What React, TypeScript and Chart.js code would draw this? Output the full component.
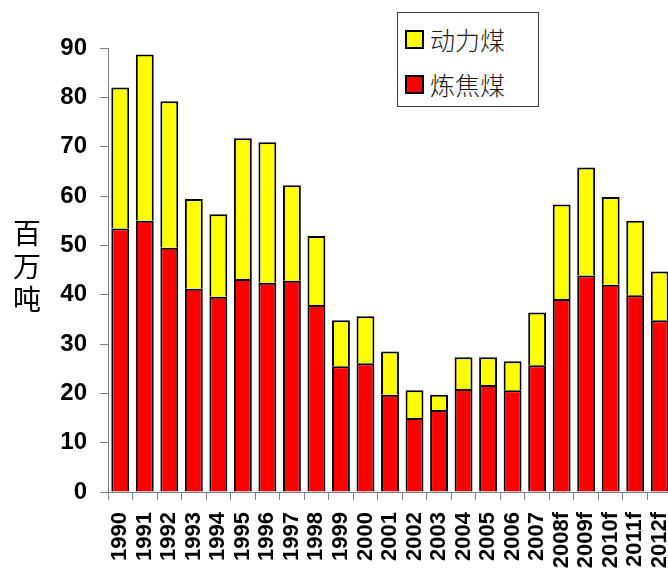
import React, { useEffect, useRef } from 'react';
import { Chart, registerables } from 'chart.js';

Chart.register(...registerables);

// ---- data ----
const years = [
  '1990', '1991', '1992', '1993', '1994', '1995', '1996', '1997', '1998', '1999',
  '2000', '2001', '2002', '2003', '2004', '2005', '2006', '2007',
  '2008f', '2009f', '2010f', '2011f', '2012f',
];
// 炼焦煤 (coking coal), million tonnes
const cokingCoal = [
  53.4, 55.0, 49.5, 41.2, 39.6, 43.2, 42.4, 42.8, 37.9, 25.5,
  26.1, 19.7, 15.0, 16.6, 20.9, 21.7, 20.6, 25.7,
  39.1, 43.9, 42.0, 39.9, 34.8,
];
// 动力煤 (thermal coal), million tonnes (stacked on top)
const thermalCoal = [
  28.6, 33.7, 29.7, 18.2, 16.7, 28.5, 28.5, 19.4, 14.0, 9.3,
  9.5, 8.8, 5.6, 3.1, 6.4, 5.6, 5.9, 10.7,
  19.2, 21.9, 17.8, 15.1, 9.9,
];
const seriesNames = ['炼焦煤', '动力煤'];
const seriesColors = ['#ff0000', '#ffff00'];
const yMin = 0;
const yMax = 90;
const yStep = 10;
const yTitleChars = ['百', '万', '吨'];

const CANVAS_W = 672;
const CANVAS_H = 590;
const AXIS_LEFT = 108;
const AXIS_BOTTOM = 492;
const PLOT_TOP = 48;

const latin = "'Liberation Sans', Arial, sans-serif";
const cjk = "'Noto Sans CJK SC', 'Noto Sans', sans-serif";

export default function App() {
  const ref = useRef<HTMLCanvasElement>(null);

  useEffect(() => {
    const canvas = ref.current;
    if (!canvas) return;
    const chart = new Chart(canvas, {
      type: 'bar',
      data: {
        labels: years,
        datasets: [
          {
            label: seriesNames[0],
            data: cokingCoal,
            backgroundColor: seriesColors[0],
            borderColor: '#000000',
            borderWidth: 2,
          },
          {
            label: seriesNames[1],
            data: thermalCoal,
            backgroundColor: seriesColors[1],
            borderColor: '#000000',
            borderWidth: 2,
          },
        ],
      },
      options: {
        responsive: false,
        animation: false,
        layout: { padding: { top: PLOT_TOP, left: 0, right: 0, bottom: 0 } },
        datasets: { bar: { categoryPercentage: 1, barPercentage: 0.73 } },
        plugins: {
          legend: { display: false },
          tooltip: { enabled: false },
          title: { display: false },
        },
        scales: {
          x: {
            stacked: true,
            grid: {
              offset: true,
              drawOnChartArea: false,
              drawTicks: true,
              tickLength: 8,
              color: '#808080',
            },
            border: { color: '#808080', width: 1 },
            ticks: {
              autoSkip: false,
              minRotation: 90,
              maxRotation: 90,
              padding: 12,
              color: '#000000',
              font: { family: latin, weight: 'bold', size: 22 },
            },
            afterFit: (s: any) => {
              s.height = CANVAS_H - AXIS_BOTTOM;
              s.paddingLeft = 0;
              s.paddingRight = 0;
            },
          },
          y: {
            stacked: true,
            min: yMin,
            max: yMax,
            grid: {
              drawOnChartArea: false,
              drawTicks: true,
              tickLength: 8,
              color: '#808080',
            },
            border: { color: '#808080', width: 1 },
            ticks: {
              stepSize: yStep,
              padding: 13,
              color: '#000000',
              font: { family: latin, weight: 'bold', size: 24 },
            },
            afterFit: (s: any) => {
              s.width = AXIS_LEFT;
            },
          },
        },
      },
    });
    return () => chart.destroy();
  }, []);

  const legendItems = seriesNames
    .map((name, i) => ({ name, color: seriesColors[i] }))
    .reverse();

  return (
    <div
      style={{
        position: 'absolute',
        left: 0,
        top: 0,
        width: 668,
        height: 572,
        overflow: 'hidden',
        background: '#ffffff',
      }}
    >
      <canvas
        ref={ref}
        width={CANVAS_W}
        height={CANVAS_H}
        style={{ display: 'block', width: CANVAS_W, height: CANVAS_H }}
      />
      {/* y-axis title, stacked vertical characters */}
      <div
        style={{
          position: 'absolute',
          left: 12,
          top: 216,
          width: 30,
          fontFamily: cjk,
          fontSize: 28,
          lineHeight: '33px',
          color: '#000',
          textAlign: 'center',
        }}
      >
        {yTitleChars.map((c) => (
          <div key={c}>{c}</div>
        ))}
      </div>
      {/* legend */}
      <div
        style={{
          position: 'absolute',
          left: 397,
          top: 12,
          width: 140,
          height: 93,
          border: '1px solid #404040',
          background: '#ffffff',
        }}
      >
        {legendItems.map((it, i) => (
          <div
            key={it.name}
            style={{
              position: 'absolute',
              left: 7,
              top: 16 + i * 45,
              height: 20,
              display: 'flex',
              alignItems: 'center',
            }}
          >
            <div
              style={{
                width: 15,
                height: 15,
                background: it.color,
                border: '2px solid #000',
                marginRight: 6,
                flex: 'none',
              }}
            />
            <span
              style={{
                fontFamily: cjk,
                fontSize: 25,
                fontWeight: 300,
                lineHeight: '20px',
                color: '#1a1a1a',
                whiteSpace: 'nowrap',
              }}
            >
              {it.name}
            </span>
          </div>
        ))}
      </div>
    </div>
  );
}
